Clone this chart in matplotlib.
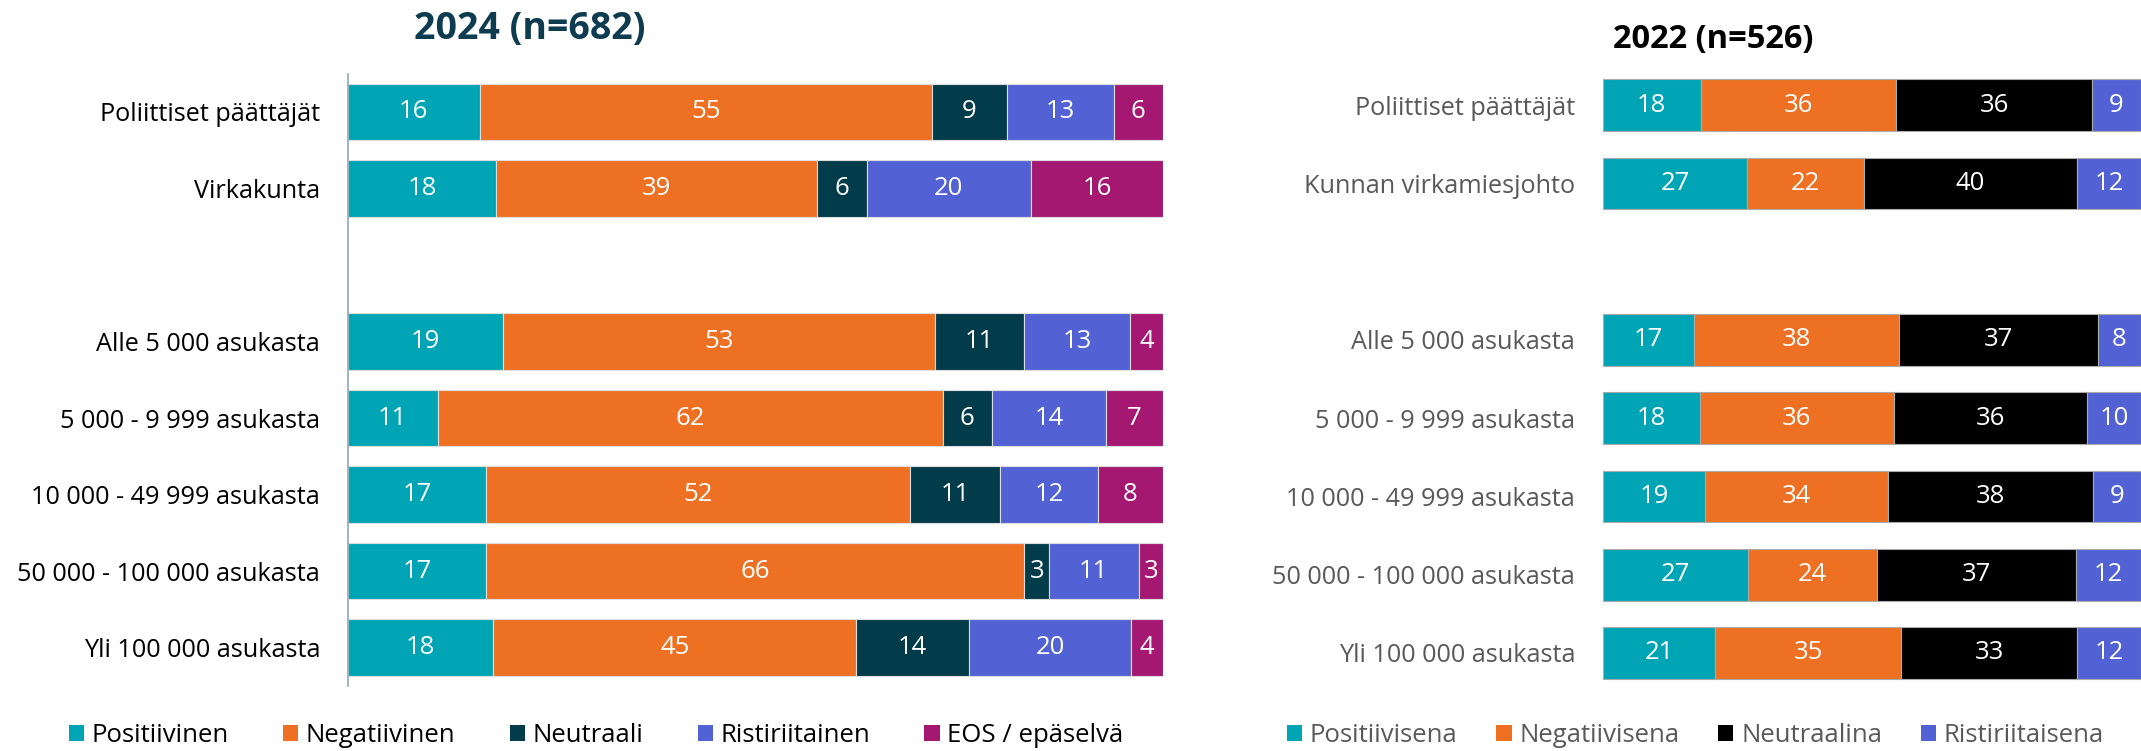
import matplotlib.pyplot as plt
import numpy as np

plt.rcParams['font.family'] = ['Open Sans', 'DejaVu Sans']

# 2024 (n=682)
ryhmat_2024 = ["Poliittiset päättäjät", "Virkakunta", "",
               "Alle 5 000 asukasta", "5 000 - 9 999 asukasta",
               "10 000 - 49 999 asukasta", "50 000 - 100 000 asukasta",
               "Yli 100 000 asukasta"]
sarjat_2024 = ["Positiivinen", "Negatiivinen", "Neutraali", "Ristiriitainen", "EOS / epäselvä"]
arvot_2024 = [
    [16, 55, 9, 13, 6],
    [18, 39, 6, 20, 16],
    None,
    [19, 53, 11, 13, 4],
    [11, 62, 6, 14, 7],
    [17, 52, 11, 12, 8],
    [17, 66, 3, 11, 3],
    [18, 45, 14, 20, 4],
]
varit_2024 = ["#00A5B5", "#EE7023", "#023B4A", "#5262D4", "#A51872"]

# 2022 (n=526)
ryhmat_2022 = ["Poliittiset päättäjät", "Kunnan virkamiesjohto", "",
               "Alle 5 000 asukasta", "5 000 - 9 999 asukasta",
               "10 000 - 49 999 asukasta", "50 000 - 100 000 asukasta",
               "Yli 100 000 asukasta"]
sarjat_2022 = ["Positiivisena", "Negatiivisena", "Neutraalina", "Ristiriitaisena"]
arvot_2022 = [
    [18, 36, 36, 9],
    [27, 22, 40, 12],
    None,
    [17, 38, 37, 8],
    [18, 36, 36, 10],
    [19, 34, 38, 9],
    [27, 24, 37, 12],
    [21, 35, 33, 12],
]
varit_2022 = ["#00A5B5", "#EE7023", "#000000", "#5262D4"]


def piirra(ax, ryhmat, sarjat, arvot, varit, korkeus, tekstivari, reuna):
    handles = []
    for j, nimi in enumerate(sarjat):
        ys, lefts, widths, labels = [], [], [], []
        for i, rivi in enumerate(arvot):
            if rivi is None:
                continue
            osuus = np.array(rivi, dtype=float) / sum(rivi) * 100
            ys.append(i)
            lefts.append(osuus[:j].sum())
            widths.append(osuus[j])
            labels.append(rivi[j])
        b = ax.barh(ys, widths, left=lefts, height=korkeus, color=varit[j],
                    edgecolor=reuna, linewidth=0.8, label=nimi)
        ax.bar_label(b, labels=[str(v) for v in labels], label_type='center',
                     color='white', fontsize=18.5)
        handles.append(b)
    ax.set_yticks(range(len(ryhmat)))
    ax.set_yticklabels(ryhmat, fontsize=18.2, color=tekstivari)
    ax.set_ylim(len(ryhmat) - 0.5, -0.5)
    ax.set_xlim(0, 100)
    ax.set_xticks([])
    ax.tick_params(axis='y', length=0, pad=20)
    for s in ['top', 'right', 'bottom']:
        ax.spines[s].set_visible(False)
    return handles


fig = plt.figure(figsize=(21.41, 7.51), dpi=100)

ax1 = fig.add_axes([0.1625, 0.0866, 0.3807, 0.8154])
h1 = piirra(ax1, ryhmat_2024, sarjat_2024, arvot_2024, varit_2024, 0.74, 'black', '#dddddd')
ax1.spines['left'].set_color('#8da9b4')
ax1.spines['left'].set_linewidth(1.2)
fig.text(0.2476, 0.962, "2024 (n=682)", fontsize=27, fontweight='bold',
         color='#0D3B4F', ha='center', va='center')

ax2 = fig.add_axes([0.7487, 0.0785, 0.2513, 0.8335])
h2 = piirra(ax2, ryhmat_2022, sarjat_2022, arvot_2022, varit_2022, 0.66, '#595959', '#aaaaaa')
ax2.spines['left'].set_visible(False)
fig.text(0.80, 0.948, "2022 (n=526)", fontsize=23.5, fontweight='bold',
         color='black', ha='center', va='center')

leg1 = fig.legend(handles=h1, labels=sarjat_2024, loc='center left',
                  bbox_to_anchor=(0.032, 0.021), ncol=5, frameon=False,
                  fontsize=18.5, handlelength=0.6, handleheight=0.6,
                  handletextpad=0.3, columnspacing=2.1, borderpad=0, borderaxespad=0)
leg2 = fig.legend(handles=h2, labels=sarjat_2022, loc='center left',
                  bbox_to_anchor=(0.601, 0.021), ncol=4, frameon=False,
                  fontsize=18.5, handlelength=0.6, handleheight=0.6,
                  handletextpad=0.3, columnspacing=1.5, borderpad=0, borderaxespad=0,
                  labelcolor='#595959')
for leg in (leg1, leg2):
    for p in leg.get_patches():
        p.set_edgecolor('none')

fig.savefig("out.png", dpi=100)
